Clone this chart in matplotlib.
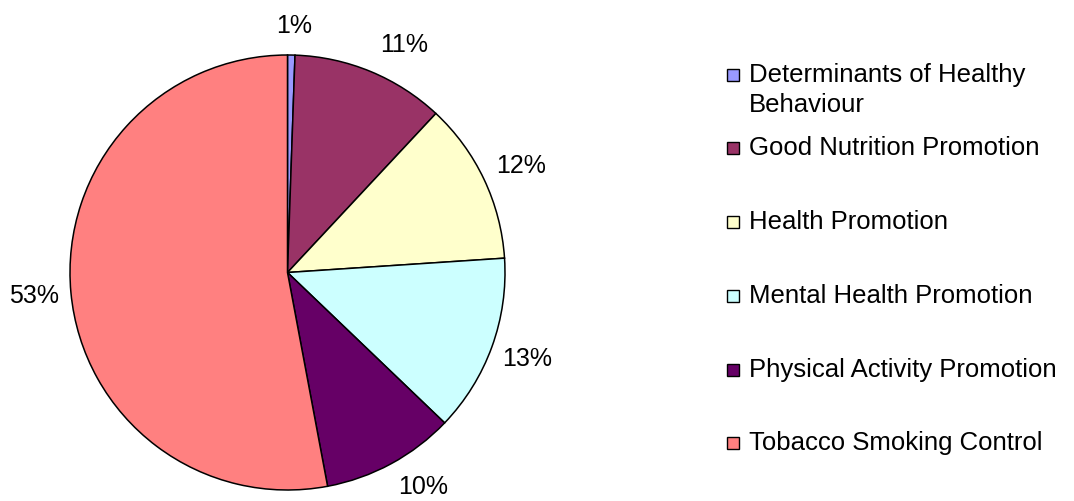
import matplotlib
matplotlib.use("Agg")
import matplotlib.pyplot as plt
from matplotlib.patches import Rectangle

plt.rcParams["font.family"] = ["Liberation Sans", "DejaVu Sans"]

categories = [
    "Determinants of Healthy\nBehaviour",
    "Good Nutrition Promotion",
    "Health Promotion",
    "Mental Health Promotion",
    "Physical Activity Promotion",
    "Tobacco Smoking Control",
]
shares = [0.55, 11.4, 12.0, 13.2, 9.9, 52.95]
colors = ["#9999FF", "#993366", "#FFFFCC", "#CCFFFF", "#660066", "#FF8080"]

W, H = 1074, 501
fig = plt.figure(figsize=(W / 100, H / 100), dpi=100)

# pie centre and radius in pixels
cx, cy, r = 287.5, 272.5, 217.5
ax = fig.add_axes([(cx - r) / W, (H - cy - r) / H, 2 * r / W, 2 * r / H])
wedges, texts, autotexts = ax.pie(
    shares, colors=colors, startangle=90, counterclock=False,
    autopct="%.0f%%", pctdistance=1.17,
    wedgeprops=dict(edgecolor="black", linewidth=1.1),
    textprops=dict(fontsize=18, color="black"))
ax.set_xlim(-1, 1)
ax.set_ylim(-1, 1)
ax.axis("off")

# nudge some labels the way the original placed them
autotexts[0].set_position(((294 - cx) / r, (cy - 26) / r))
autotexts[1].set_position(((404 - cx) / r, (cy - 45) / r))
autotexts[2].set_position(((521 - cx) / r, (cy - 166) / r))
autotexts[4].set_position(((423 - cx) / r, (cy - 487) / r))

# legend drawn by hand so the marker sits on the first text line
baselines = [82, 155, 229, 303, 377, 450]
for label, color, base in zip(categories, colors, baselines):
    fig.patches.append(Rectangle((727 / W, (H - base + 1) / H), 12 / W, 12 / H,
                                 transform=fig.transFigure, facecolor=color,
                                 edgecolor="black", linewidth=1.0))
    lines = label.split("\n")
    for k, line in enumerate(lines):
        fig.text(749 / W, (H - base - 30 * k) / H, line, fontsize=18.5,
                 va="baseline", ha="left")

fig.savefig("out.png", dpi=100)
